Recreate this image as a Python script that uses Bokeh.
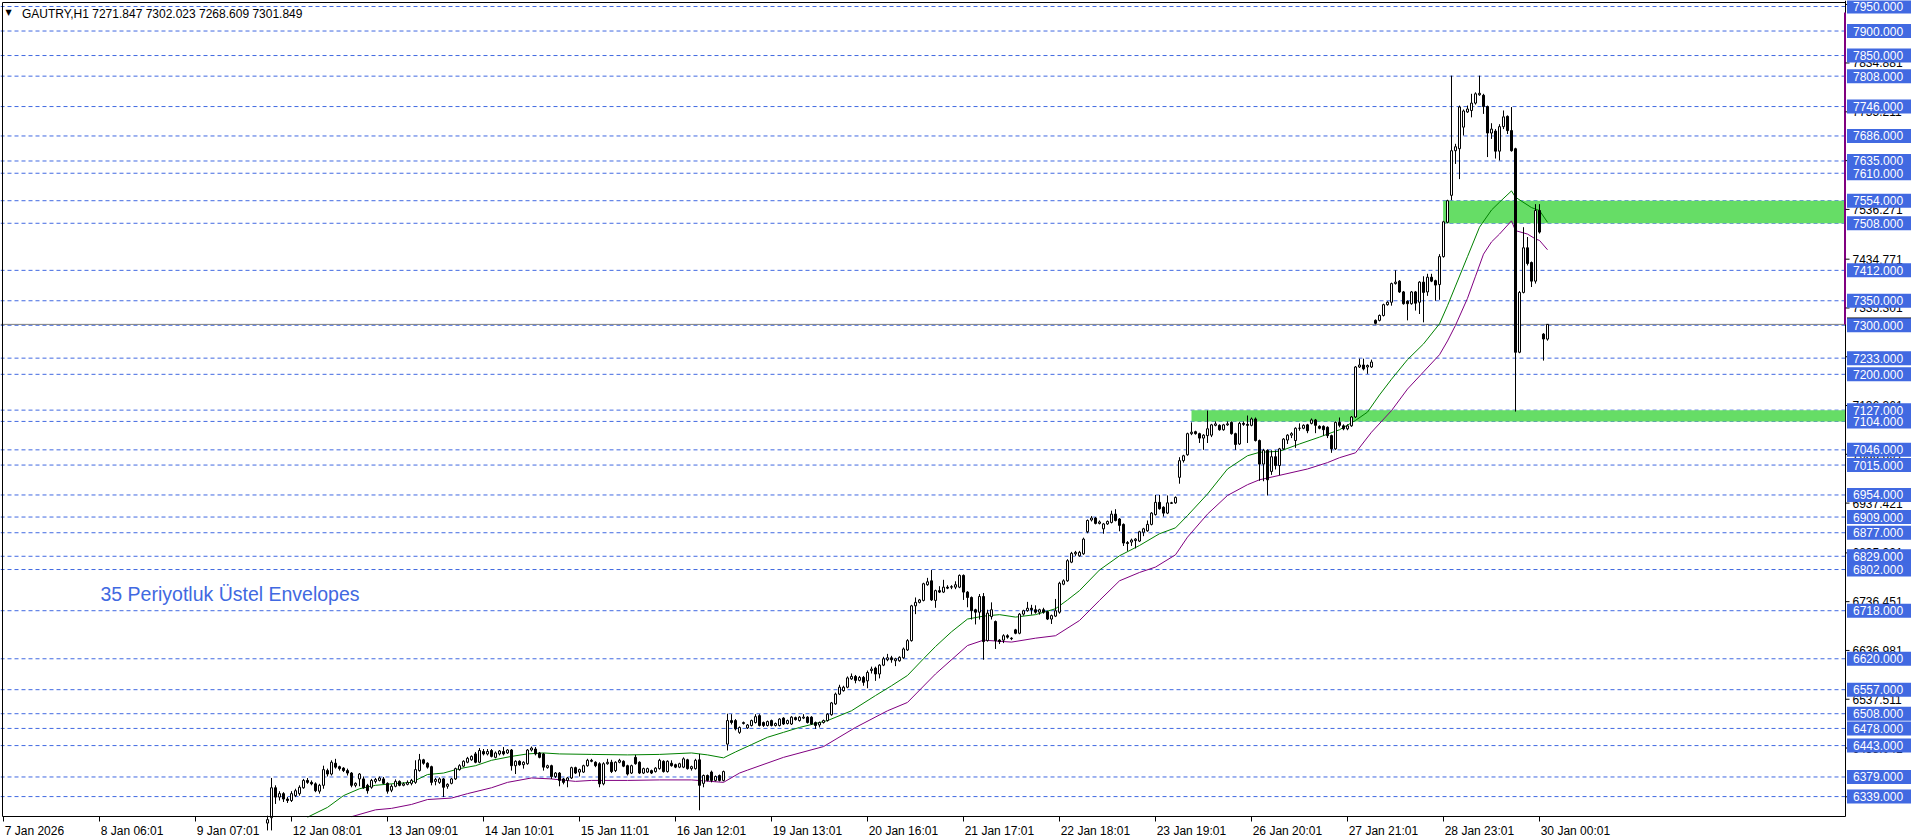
from bokeh.plotting import figure
from bokeh.models import Range1d, ColumnDataSource
from bokeh.core.properties import value
from bokeh.embed import file_html
from bokeh.resources import INLINE

# ---------------- data ----------------
FIRST_BAR = 66  # bar index of the first candle (hourly bars)

opens = [
    6285, 6296, 6357, 6338, 6345, 6334, 6331, 6341, 6345, 6357,
    6372, 6368, 6365, 6350, 6362, 6392, 6385, 6407, 6400, 6397,
    6392, 6387, 6362, 6375, 6375, 6362, 6358, 6370, 6372, 6375,
    6366, 6352, 6360, 6370, 6362, 6364, 6366, 6368, 6392, 6414,
    6407, 6400, 6370, 6368, 6375, 6360, 6366, 6375, 6394, 6401,
    6409, 6414, 6426, 6409, 6431, 6426, 6433, 6419, 6426, 6431,
    6428, 6434, 6402, 6411, 6404, 6406, 6434, 6436, 6428, 6426,
    6398, 6402, 6380, 6387, 6375, 6372, 6377, 6398, 6389, 6389,
    6402, 6413, 6409, 6406, 6365, 6406, 6409, 6392, 6409, 6411,
    6402, 6387, 6419, 6409, 6387, 6389, 6392, 6390, 6396, 6411,
    6390, 6407, 6404, 6399, 6399, 6414, 6396, 6396, 6414, 6366,
    6382, 6389, 6372, 6382, 6372, 6446, 6494, 6494, 6470, 6488,
    6479, 6484, 6490, 6504, 6490, 6484, 6494, 6484, 6484, 6499,
    6488, 6487, 6500, 6494, 6499, 6501, 6501, 6490, 6485, 6490,
    6494, 6506, 6528, 6548, 6555, 6562, 6579, 6584, 6576, 6582,
    6575, 6596, 6601, 6589, 6607, 6618, 6622, 6616, 6616, 6622,
    6638, 6657, 6728, 6735, 6739, 6771, 6779, 6739, 6759, 6756,
    6766, 6766, 6766, 6766, 6790, 6756, 6745, 6720, 6715, 6747,
    6657, 6706, 6696, 6658, 6658, 6667, 6662, 6679, 6672, 6711,
    6718, 6723, 6720, 6715, 6720, 6716, 6701, 6707, 6715, 6772,
    6779, 6817, 6834, 6830, 6834, 6879, 6903, 6907, 6896, 6885,
    6895, 6898, 6915, 6905, 6894, 6857, 6858, 6861, 6860, 6878,
    6881, 6894, 6914, 6939, 6929, 6917, 6938, 6938, 6990, 7024,
    7036, 7079, 7083, 7079, 7070, 7075, 7076, 7096, 7096, 7087,
    7097, 7102, 7079, 7058, 7100, 7098, 7096, 7109, 7065, 7017,
    7045, 7002, 7032, 7014, 7048, 7066, 7076, 7065, 7090, 7090,
    7097, 7100, 7107, 7094, 7094, 7092, 7075, 7048, 7102, 7095,
    7089, 7095, 7113, 7215, 7219, 7215, 7215, 7310, 7310, 7320,
    7342, 7347, 7385, 7390, 7368, 7349, 7344, 7368, 7347, 7388,
    7368, 7398, 7391, 7383, 7440, 7510, 7565, 7656, 7660, 7704,
    7735, 7738, 7753, 7770, 7769, 7746, 7692, 7696, 7655, 7705,
    7726, 7697, 7660, 7245, 7367, 7458, 7428, 7390, 7534, 7282, 7271.847,
]
highs = [
    6300, 6377, 6362, 6350, 6348, 6338, 6350, 6355, 6362, 6375,
    6377, 6372, 6368, 6365, 6402, 6396, 6413, 6416, 6402, 6399,
    6396, 6389, 6368, 6387, 6380, 6365, 6375, 6377, 6380, 6379,
    6368, 6364, 6374, 6372, 6368, 6372, 6375, 6413, 6426, 6416,
    6409, 6402, 6377, 6378, 6377, 6366, 6377, 6398, 6405, 6413,
    6420, 6423, 6430, 6438, 6436, 6436, 6436, 6431, 6434, 6440,
    6436, 6436, 6413, 6413, 6411, 6436, 6441, 6440, 6430, 6428,
    6404, 6404, 6389, 6389, 6377, 6379, 6400, 6400, 6396, 6404,
    6416, 6416, 6411, 6409, 6409, 6416, 6414, 6411, 6416, 6413,
    6404, 6404, 6424, 6411, 6398, 6398, 6394, 6399, 6416, 6413,
    6413, 6413, 6406, 6408, 6419, 6416, 6402, 6416, 6426, 6384,
    6384, 6392, 6382, 6384, 6392, 6508, 6507, 6497, 6482, 6492,
    6487, 6496, 6507, 6507, 6492, 6494, 6496, 6490, 6499, 6501,
    6496, 6503, 6502, 6503, 6507, 6503, 6503, 6492, 6492, 6496,
    6509, 6532, 6551, 6567, 6565, 6584, 6590, 6587, 6585, 6585,
    6596, 6604, 6604, 6609, 6624, 6630, 6626, 6622, 6625, 6643,
    6660, 6730, 6745, 6742, 6775, 6785, 6801, 6761, 6768, 6781,
    6770, 6770, 6778, 6792, 6792, 6758, 6747, 6722, 6752, 6754,
    6720, 6735, 6698, 6660, 6670, 6670, 6664, 6681, 6713, 6720,
    6736, 6730, 6729, 6722, 6724, 6718, 6710, 6742, 6777, 6782,
    6823, 6838, 6840, 6840, 6867, 6904, 6911, 6909, 6902, 6897,
    6902, 6922, 6925, 6907, 6896, 6860, 6865, 6866, 6881, 6887,
    6902, 6919, 6954, 6954, 6931, 6953, 6940, 6951, 7031, 7036,
    7081, 7102, 7085, 7081, 7078, 7126, 7099, 7104, 7098, 7099,
    7104, 7104, 7081, 7103, 7104, 7116, 7112, 7112, 7067, 7048,
    7047, 7045, 7045, 7050, 7070, 7078, 7082, 7092, 7100, 7098,
    7099, 7110, 7109, 7096, 7096, 7094, 7077, 7104, 7112, 7098,
    7098, 7115, 7217, 7232, 7232, 7220, 7230, 7312, 7322, 7344,
    7349, 7387, 7412, 7392, 7370, 7351, 7370, 7370, 7390, 7400,
    7405, 7405, 7393, 7445, 7513, 7556, 7809, 7670, 7748, 7740,
    7748, 7772, 7775, 7809, 7772, 7748, 7712, 7700, 7710, 7738,
    7728, 7745, 7662, 7370, 7500, 7480, 7430, 7547, 7547, 7284, 7302.023,
]
lows = [
    6270, 6270, 6324, 6331, 6328, 6326, 6328, 6338, 6341, 6355,
    6365, 6362, 6348, 6345, 6355, 6380, 6382, 6396, 6392, 6389,
    6382, 6358, 6358, 6360, 6355, 6345, 6355, 6366, 6370, 6364,
    6345, 6348, 6358, 6360, 6360, 6362, 6362, 6365, 6390, 6404,
    6396, 6362, 6362, 6365, 6338, 6355, 6364, 6373, 6392, 6399,
    6407, 6412, 6407, 6407, 6423, 6423, 6419, 6417, 6423, 6423,
    6426, 6392, 6385, 6402, 6396, 6404, 6431, 6423, 6417, 6392,
    6396, 6375, 6377, 6360, 6364, 6358, 6375, 6385, 6380, 6387,
    6400, 6409, 6399, 6358, 6362, 6404, 6387, 6389, 6407, 6399,
    6382, 6385, 6404, 6385, 6385, 6387, 6385, 6388, 6394, 6388,
    6388, 6400, 6397, 6397, 6397, 6394, 6392, 6394, 6311, 6358,
    6370, 6368, 6370, 6370, 6370, 6433, 6486, 6474, 6467, 6486,
    6477, 6482, 6488, 6482, 6481, 6482, 6482, 6482, 6482, 6485,
    6486, 6485, 6494, 6492, 6497, 6488, 6485, 6477, 6480, 6488,
    6492, 6504, 6526, 6546, 6553, 6560, 6577, 6570, 6574, 6565,
    6560, 6590, 6575, 6580, 6605, 6615, 6612, 6605, 6614, 6620,
    6636, 6655, 6711, 6733, 6737, 6769, 6738, 6724, 6754, 6754,
    6762, 6762, 6762, 6764, 6740, 6725, 6700, 6690, 6700, 6618,
    6655, 6700, 6640, 6650, 6652, 6661, 6658, 6670, 6670, 6708,
    6716, 6710, 6712, 6710, 6712, 6699, 6691, 6705, 6712, 6770,
    6777, 6815, 6830, 6828, 6832, 6876, 6900, 6894, 6894, 6875,
    6893, 6896, 6900, 6880, 6850, 6840, 6850, 6845, 6858, 6870,
    6879, 6892, 6912, 6924, 6910, 6915, 6936, 6936, 6977, 7020,
    7034, 7076, 7077, 7060, 7046, 7060, 7072, 7094, 7085, 7085,
    7095, 7077, 7046, 7056, 7095, 7060, 7094, 7063, 6983, 6982,
    6953, 6995, 7006, 6994, 7046, 7058, 7070, 7050, 7085, 7088,
    7080, 7098, 7080, 7088, 7075, 7070, 7040, 7046, 7092, 7086,
    7086, 7093, 7111, 7213, 7208, 7201, 7213, 7302, 7308, 7318,
    7340, 7340, 7383, 7366, 7342, 7310, 7342, 7330, 7323, 7306,
    7360, 7388, 7350, 7352, 7438, 7508, 7555, 7629, 7598, 7687,
    7733, 7724, 7750, 7768, 7731, 7643, 7680, 7640, 7636, 7700,
    7690, 7654, 7124, 7243, 7365, 7422, 7378, 7385, 7487, 7228, 7268.609,
]
closes = [
    6292, 6357, 6338, 6345, 6334, 6331, 6345, 6351, 6358, 6372,
    6368, 6365, 6351, 6362, 6394, 6385, 6409, 6399, 6396, 6392,
    6387, 6362, 6366, 6385, 6357, 6351, 6372, 6374, 6377, 6366,
    6350, 6360, 6370, 6362, 6365, 6368, 6372, 6394, 6414, 6407,
    6399, 6368, 6374, 6375, 6358, 6364, 6375, 6396, 6402, 6411,
    6417, 6421, 6409, 6433, 6426, 6431, 6421, 6428, 6432, 6426,
    6434, 6402, 6411, 6404, 6409, 6434, 6438, 6426, 6419, 6399,
    6402, 6380, 6387, 6372, 6368, 6377, 6398, 6387, 6394, 6402,
    6413, 6411, 6402, 6365, 6406, 6409, 6390, 6409, 6413, 6401,
    6385, 6402, 6406, 6387, 6396, 6396, 6387, 6397, 6413, 6390,
    6411, 6402, 6399, 6406, 6416, 6396, 6400, 6413, 6362, 6382,
    6372, 6372, 6380, 6372, 6390, 6494, 6490, 6477, 6480, 6490,
    6485, 6494, 6502, 6484, 6484, 6492, 6484, 6488, 6497, 6487,
    6494, 6501, 6496, 6501, 6501, 6490, 6487, 6484, 6490, 6494,
    6507, 6530, 6548, 6562, 6562, 6581, 6584, 6576, 6582, 6572,
    6592, 6599, 6589, 6607, 6620, 6622, 6618, 6620, 6623, 6640,
    6657, 6728, 6735, 6740, 6773, 6777, 6740, 6759, 6756, 6766,
    6764, 6767, 6771, 6790, 6756, 6745, 6718, 6715, 6747, 6655,
    6713, 6720, 6657, 6655, 6667, 6664, 6661, 6672, 6711, 6718,
    6723, 6720, 6715, 6720, 6715, 6701, 6708, 6718, 6774, 6779,
    6820, 6835, 6837, 6837, 6864, 6902, 6907, 6896, 6899, 6895,
    6900, 6915, 6902, 6892, 6856, 6855, 6862, 6864, 6879, 6885,
    6894, 6917, 6939, 6926, 6917, 6938, 6937, 6949, 7024, 7034,
    7079, 7082, 7079, 7070, 7076, 7089, 7097, 7099, 7087, 7097,
    7099, 7079, 7057, 7100, 7098, 7096, 7109, 7065, 7017, 7045,
    6985, 7032, 7014, 7048, 7068, 7076, 7079, 7090, 7090, 7096,
    7085, 7107, 7096, 7090, 7087, 7075, 7048, 7102, 7096, 7089,
    7095, 7113, 7215, 7219, 7211, 7218, 7225, 7304, 7320, 7342,
    7347, 7385, 7388, 7368, 7344, 7344, 7368, 7345, 7388, 7367,
    7398, 7390, 7382, 7440, 7511, 7554, 7656, 7664, 7745, 7737,
    7741, 7753, 7772, 7773, 7746, 7692, 7700, 7655, 7705, 7725,
    7697, 7656, 7245, 7367, 7458, 7426, 7390, 7534, 7490, 7272, 7301.849,
]

# 35-period exponential envelopes
upper_bar = [76, 81, 85, 89, 93, 97, 102, 106, 110, 114, 118, 122, 127, 131, 135, 139, 147, 156, 164, 172,
             176, 180, 183, 187, 191, 195, 199, 203, 206, 212, 218, 222, 226, 230, 233, 237, 241, 245, 249, 253,
             258, 263, 266, 269, 274, 279, 284, 289, 293, 296, 301, 306, 311, 314, 319, 324, 329, 334, 338, 341,
             344, 347, 351, 355, 359, 361, 363, 366, 369, 372, 374, 377, 378, 382, 384, 386]
upper_val = [6297, 6317, 6341, 6355, 6362, 6365, 6368, 6384, 6387, 6396, 6402, 6413, 6421, 6426, 6428, 6426, 6425, 6424, 6425, 6428,
             6424, 6418, 6430, 6445, 6460, 6470, 6480, 6488, 6494, 6514, 6545, 6565, 6586, 6620, 6645, 6675, 6701, 6707, 6710, 6705,
             6710, 6722, 6740, 6759, 6801, 6830, 6851, 6875, 6887, 6912, 6956, 7007, 7034, 7041, 7043, 7058, 7072, 7087, 7106, 7123,
             7158, 7190, 7230, 7262, 7303, 7340, 7380, 7440, 7500, 7535, 7551, 7574, 7561, 7540, 7534, 7510]
lower_bar = [87, 93, 97, 102, 106, 112, 116, 122, 126, 132, 137, 143, 147, 156, 164, 172, 180, 184, 186, 195,
             205, 213, 221, 226, 233, 241, 245, 252, 258, 263, 269, 274, 279, 284, 288, 293, 296, 301, 306, 311,
             314, 319, 326, 331, 334, 338, 342, 347, 351, 355, 359, 361, 363, 366, 368, 370, 372, 374, 377, 378,
             381, 383, 384, 386]
lower_val = [6298, 6312, 6315, 6323, 6333, 6336, 6345, 6357, 6368, 6377, 6375, 6370, 6372, 6372, 6373, 6373, 6368, 6387, 6393, 6419,
             6441, 6480, 6514, 6531, 6589, 6647, 6658, 6654, 6662, 6667, 6698, 6739, 6779, 6796, 6807, 6832, 6868, 6915, 6953, 6975,
             6985, 6994, 7007, 7020, 7030, 7040, 7082, 7126, 7170, 7205, 7240, 7268, 7300, 7355, 7400, 7445, 7470, 7486, 7513, 7493,
             7486, 7476, 7473, 7454]

# horizontal levels (blue dashed lines with labels)
levels = [7950, 7900, 7850, 7808, 7746, 7686, 7635, 7610, 7554, 7508, 7412, 7350, 7300, 7233, 7200,
          7127, 7104, 7046, 7015, 6954, 6909, 6877, 6829, 6802, 6718, 6620, 6557, 6508, 6478, 6443,
          6379, 6339]

# green zones
zone_start_bar = [297.0, 359.9]
zone_low = [7104, 7508]
zone_high = [7127, 7554]

# price-scale ticks
price_ticks = [7954.151, 7834.881, 7735.211, 7635.741, 7536.271, 7434.771, 7335.301, 7235.831, 7136.361,
               7036.891, 6937.421, 6835.921, 6736.451, 6636.981, 6537.511, 6438.041, 6338.571]

# time axis
time_tick_bars = [0, 24, 48, 72, 96, 120, 144, 168, 192, 216, 240, 264, 288, 312, 336, 360, 384]
time_tick_labels = ["7 Jan 2026", "8 Jan 06:01", "9 Jan 07:01", "12 Jan 08:01", "13 Jan 09:01",
                    "14 Jan 10:01", "15 Jan 11:01", "16 Jan 12:01", "19 Jan 13:01", "20 Jan 16:01",
                    "21 Jan 17:01", "22 Jan 18:01", "23 Jan 19:01", "26 Jan 20:01", "27 Jan 21:01",
                    "28 Jan 23:01", "30 Jan 00:01"]

bid_price = 7301.849
title_text = "GAUTRY,H1  7271.847 7302.023 7268.609 7301.849"
note_text = "35 Periyotluk Üstel Envelopes"

# ---------------- layout (screen geometry -> data coordinates) ----------------
FONT = "Liberation Sans"
BLUE = "#4169E1"
W, H = 1914, 838
PX_PER_BAR = 4.0
X0 = -3.0 / PX_PER_BAR        # bar coordinate at the left canvas edge (bar i centred at 3 + 4 i px)
X1 = X0 + W / PX_PER_BAR
PPX = 2.039                   # price per pixel
Y1 = 7950 + 6.0 * PPX         # price at the top canvas edge (7950 drawn on pixel row 6)
Y0 = Y1 - H * PPX


def bx(px):
    return X0 + px / PX_PER_BAR


def py(px):
    return Y1 - px * PPX


EDGE = bx(1845)               # right edge of the chart = price scale line
TOP = py(2)
BOT = py(816)

p = figure(width=W, height=H, x_range=Range1d(X0, X1), y_range=Range1d(Y0, Y1),
           x_axis_location=None, y_axis_location=None, min_border=0,
           output_backend="svg", toolbar_location=None)
p.grid.visible = False
p.outline_line_color = None
p.background_fill_color = "white"
p.border_fill_color = "white"

nl = len(levels)
# dashed level lines
p.segment(x0=[X0] * nl, y0=levels, x1=[EDGE] * nl, y1=levels, line_color=BLUE,
          line_width=1, line_dash="4 3")
# bid line
p.segment(x0=[X0], y0=[bid_price], x1=[EDGE], y1=[bid_price], line_color="#7f7f7f", line_width=1)

# green zones
p.quad(left=zone_start_bar, right=[EDGE] * len(zone_start_bar), bottom=zone_low, top=zone_high,
       fill_color="#66DD66", line_color=None)

# envelopes
p.line(upper_bar, upper_val, line_color="#008000", line_width=1)
p.line(lower_bar, lower_val, line_color="#800080", line_width=1)

# candles
n = min(len(opens), len(highs), len(lows), len(closes))
xs = [FIRST_BAR + i for i in range(n)]
tops = [max(opens[i], closes[i]) for i in range(n)]
bots = [min(opens[i], closes[i]) for i in range(n)]
fills = ["white" if closes[i] >= opens[i] else "black" for i in range(n)]
src = ColumnDataSource(dict(x=xs, high=highs[:n], low=lows[:n], top=tops, bottom=bots, fill=fills))
p.segment(x0="x", y0="low", x1="x", y1="high", line_color="black", line_width=1, source=src)
p.vbar(x="x", width=0.5, top="top", bottom="bottom", fill_color="fill", line_color="black",
       line_width=1, source=src)

# chart frame and price-scale line
p.segment(x0=[bx(2), bx(2), bx(2), EDGE], y0=[TOP, BOT, BOT, BOT],
          x1=[EDGE, EDGE, bx(2), EDGE], y1=[TOP, BOT, TOP, Y1],
          line_color="black", line_width=1)
# purple marker on the scale edge
p.segment(x0=[bx(1844.5)], y0=[bid_price], x1=[bx(1844.5)], y1=[py(12)], line_color="#800080", line_width=2)

# price-scale ticks and labels
pt_in = [t for t in price_ticks if BOT <= t <= TOP]
p.segment(x0=[EDGE] * len(pt_in), y0=pt_in, x1=[bx(1849)] * len(pt_in), y1=pt_in,
          line_color="black", line_width=1)
p.text(x=[bx(1852)] * (len(price_ticks) - 1), y=price_ticks[1:], text=[f"{t:.3f}" for t in price_ticks[1:]],
       text_font=value(FONT), text_font_size="12px", text_color="black",
       text_baseline="middle", text_align="left")
p.text(x=[bx(1852)], y=[price_ticks[0]], text=[f"{price_ticks[0]:.3f}"], text_font=value(FONT),
       text_font_size="12px", text_color="black", text_baseline="top", text_align="left")

# level boxes on the scale (black bid box first, then the blue level boxes)
p.rect(x=[bx(1878.5)], y=[bid_price], width=64, height=14, width_units="screen", height_units="screen",
       fill_color="black", line_color=None)
p.text(x=[bx(1852.5)], y=[bid_price], text=[f"{bid_price:.3f}"], text_font=value(FONT), text_font_size="12px",
       text_color="white", text_baseline="middle", text_align="left")
p.rect(x=[bx(1878.5)] * nl, y=levels, width=64, height=14, width_units="screen", height_units="screen",
       fill_color=BLUE, line_color=None)
p.text(x=[bx(1852.5)] * nl, y=levels, text=[f"{lv:.3f}" for lv in levels], text_font=value(FONT),
       text_font_size="12px", text_color="white", text_baseline="middle", text_align="left")

# time axis ticks and labels
nt = len(time_tick_bars)
p.segment(x0=time_tick_bars, y0=[BOT] * nt, x1=time_tick_bars, y1=[py(821)] * nt, line_color="black", line_width=1)
p.text(x=[b + 0.3 for b in time_tick_bars], y=[py(830)] * nt, text=time_tick_labels, text_font=value(FONT),
       text_font_size="12px", text_color="black", text_baseline="middle", text_align="left")

# title and note
p.text(x=[bx(5)], y=[py(12)], text=["▼"], text_font=value("DejaVu Sans"),
       text_font_size="8px", text_color="black", text_baseline="middle", text_align="left")
p.text(x=[bx(21.5)], y=[py(13)], text=[title_text], text_font=value(FONT),
       text_font_size="12px", text_color="black", text_baseline="middle", text_align="left")
p.text(x=[bx(100)], y=[py(593)], text=[note_text], text_font=value(FONT),
       text_font_size="19.5px", text_color=BLUE, text_baseline="middle", text_align="left")

open("out.html", "w").write(file_html(p, INLINE))
